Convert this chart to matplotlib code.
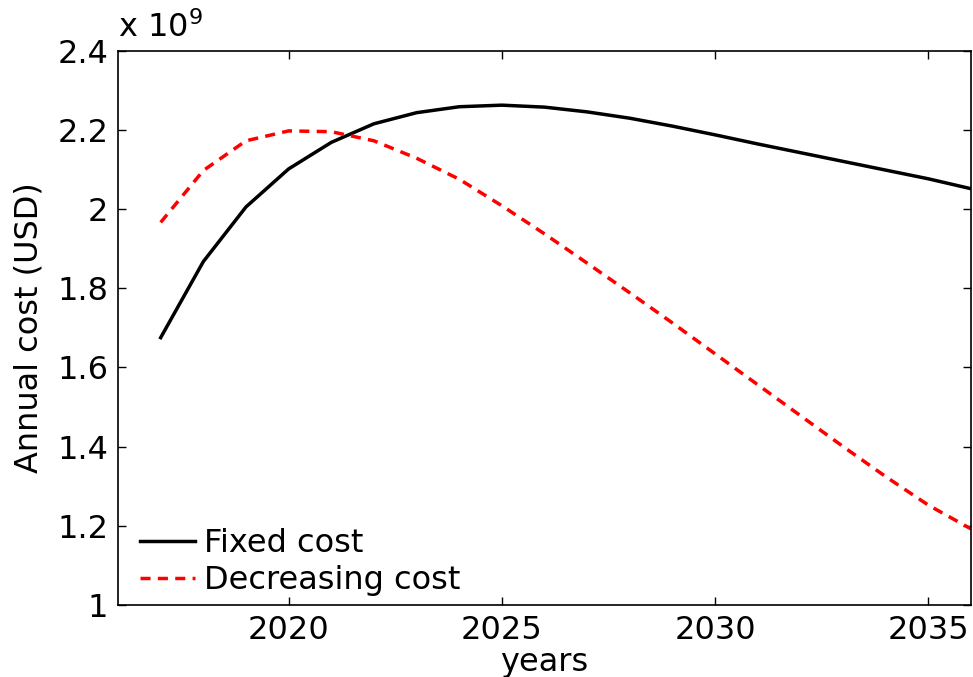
import numpy as np
import matplotlib
matplotlib.use('Agg')
import matplotlib.pyplot as plt

plt.rcParams['font.family'] = ['DejaVu Sans']

# years of the horizon
years = list(range(2017, 2037))

# annual cost in units of 1e9 USD
fixed_cost = [1.675, 1.867, 2.005, 2.101, 2.168, 2.215, 2.243, 2.258, 2.262, 2.257,
              2.245, 2.229, 2.209, 2.187, 2.164, 2.142, 2.120, 2.098, 2.076, 2.051]
decreasing_cost = [1.966, 2.097, 2.172, 2.197, 2.195, 2.172, 2.128, 2.075, 2.008, 1.937,
                   1.863, 1.788, 1.712, 1.634, 1.556, 1.478, 1.400, 1.324, 1.252, 1.192]

ytick_vals = [1.0, 1.2, 1.4, 1.6, 1.8, 2.0, 2.2, 2.4]
ytick_labels = ['1', '1.2', '1.4', '1.6', '1.8', '2', '2.2', '2.4']
xtick_vals = [2020, 2025, 2030, 2035]

fig = plt.figure(figsize=(9.73, 6.77), dpi=100)
ax = fig.add_axes([0.1213, 0.1064, 0.8767, 0.819])

ax.plot(years, fixed_cost, color='black', linewidth=2.5, label='Fixed cost')
ax.plot(years, decreasing_cost, color='red', linewidth=2.5, dashes=(2.9, 2.1),
        label='Decreasing cost')

ax.set_xlim(2016, 2036)
ax.set_ylim(1.0, 2.4)
ax.set_xticks(xtick_vals)
ax.set_yticks(ytick_vals)
ax.set_yticklabels(ytick_labels)
ax.tick_params(direction='in', top=True, right=True, length=6, width=1,
               labelsize=23, pad=7)
for s in ax.spines.values():
    s.set_linewidth(1.2)

ax.set_xlabel('years', fontsize=23, labelpad=1)
ax.set_ylabel('Annual cost (USD)', fontsize=23, labelpad=9)
ax.text(0.0, 1.012, r'x 10$^{9}$', transform=ax.transAxes, fontsize=23,
        ha='left', va='bottom')

ax.legend(loc='lower left', bbox_to_anchor=(0.0, -0.025), frameon=False, fontsize=23,
          handlelength=1.7, handletextpad=0.3, labelspacing=0.2, borderaxespad=0.3)

fig.savefig('out.png', dpi=100)
